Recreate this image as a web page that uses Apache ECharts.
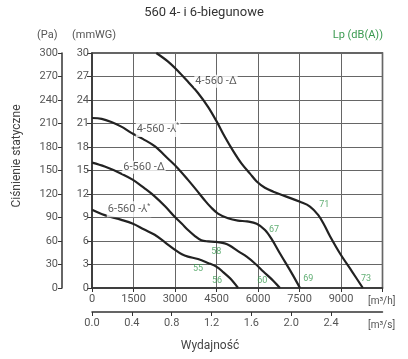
<!DOCTYPE html>
<html>
<head>
<meta charset="utf-8">
<script src="https://cdn.jsdelivr.net/npm/echarts@6/dist/echarts.min.js"></script>
<style>
html,body{margin:0;padding:0;background:#fff;}
#c{width:408px;height:359px;}
</style>
</head>
<body>
<div id="c"></div>
<script>
// ---- data (flow in m3/h, static pressure in Pa) ----
const curve4Delta = [[2324,300],[2750,289],[3108,277],[3500,262],[3831,249],[4200,231],[4500,213],[4800,193],[5100,175],[5400,159],[5711,146],[5953,136],[6250,128],[6553,123],[7000,117],[7518,110],[7879,104],[8180,93],[8400,80],[8603,66],[8964,44],[9400,21],[9790,0]];
const curve4Star = [[0,217],[350,216],[700,212],[1060,206],[1421,198],[1850,190],[2266,181],[2750,165],[3100,153],[3470,138],[3800,124],[4073,112],[4300,103],[4554,95],[4916,89],[5277,86],[5600,85],[5953,82],[6253,74],[6500,62],[6795,44],[7218,19],[7518,0]];
const curve6Delta = [[0,160],[459,155],[1060,146],[1482,138],[1870,128],[2266,117],[2650,104],[2989,91],[3250,82],[3470,74],[3700,67],[3952,61],[4200,59.5],[4434,59],[4795,57],[4988,54],[5277,47],[5591,40],[5900,31],[6192,21],[6500,11],[6795,0]];
const curve6Star = [[0,100],[459,93],[1060,87],[1482,82],[1870,75],[2266,68],[2650,58],[2989,49],[3250,43],[3470,40],[3831,37],[4193,32],[4507,27],[4750,20],[5000,12],[5280,0]];
const curveLabels = [[4482,264,'4-560 -Δ'],[2386,203,'4-560 -⅄{s|*}'],[1880,154,'6-560 -Δ'],[1337,100.5,'6-560 -⅄{s|*}']];
const dbLabels = [[8396,106,'71'],[6578,75,'67'],[7818,12.4,'69'],[9904,11.5,'73'],[6155,9.3,'60'],[4493,46.3,'58'],[3831,25.1,'55'],[4518,9.3,'56']];
const flowTicksH = [0,1500,3000,4500,6000,7500,9000];
const flowTicksS = [0,0.4,0.8,1.2,1.6,2.0,2.4];
const paTicks = [0,30,60,90,120,150,180,210,240,270,300];
const mmTicks = [0,3,6,9,12,15,18,21,24,27,30];

const FONT = 'Roboto';
const TXT = '#555';
const AX = '#333';
const GRN = '#3a9a50';

const chart = echarts.init(document.getElementById('c'), null, {renderer:'canvas'});

function lineSeries(data){
  return {type:'line', xAxisIndex:0, yAxisIndex:1, data:data, showSymbol:false, smooth:0.35,
    lineStyle:{color:'#222', width:2.2}, z:3, silent:true};
}

chart.setOption({
  animation:false,
  grid:{left:92, right:25.5, top:53, bottom:71, show:true, borderColor:AX, borderWidth:1.5},
  xAxis:[
    {type:'value', min:0, max:10500, interval:1500, position:'bottom',
     axisLine:{show:true, onZero:false, lineStyle:{color:AX, width:1.5}},
     axisTick:{show:true, length:4, lineStyle:{color:AX}},
     axisLabel:{color:TXT, fontSize:11, fontFamily:FONT, margin:6,
       customValues: flowTicksH,
       formatter:v=> flowTicksH.indexOf(v)>=0 ? String(v) : ''},
     splitLine:{show:true, lineStyle:{color:'#666', width:1}}},
    {type:'value', min:0, max:10500/3600, interval:0.4, position:'bottom', offset:24,
     axisLine:{show:true, onZero:false, lineStyle:{color:AX, width:1.5}},
     axisTick:{show:true, length:4, lineStyle:{color:AX}, customValues: flowTicksS},
     axisLabel:{color:TXT, fontSize:11, fontFamily:FONT, margin:6,
       customValues: flowTicksS,
       formatter:v=> v>2.5 ? '' : v.toFixed(1)},
     splitLine:{show:false}}
  ],
  yAxis:[
    {type:'value', min:0, max:30, interval:3, position:'left',
     axisLine:{show:true, onZero:false, lineStyle:{color:AX, width:1.5}},
     axisTick:{show:true, length:5, lineStyle:{color:AX}},
     axisLabel:{color:TXT, fontSize:11, fontFamily:FONT, margin:3, customValues: mmTicks},
     splitLine:{show:true, lineStyle:{color:'#666', width:1}}},
    {type:'value', min:0, max:300, interval:30, position:'left', offset:30,
     axisLine:{show:true, onZero:false, lineStyle:{color:AX, width:1.5}},
     axisTick:{show:true, length:4, lineStyle:{color:AX}},
     axisLabel:{color:TXT, fontSize:11, fontFamily:FONT, margin:4, customValues: paTicks},
     splitLine:{show:false}}
  ],
  series:[
    lineSeries(curve4Delta),
    lineSeries(curve4Star),
    lineSeries(curve6Delta),
    lineSeries(curve6Star),
    {type:'scatter', xAxisIndex:0, yAxisIndex:1, symbolSize:1, silent:true, z:5,
     itemStyle:{color:'rgba(0,0,0,0)'},
     data: curveLabels.map(d=>({value:[d[0],d[1]], name:d[2]})),
     label:{show:true, position:'inside', formatter:p=>p.name, color:'#333', fontSize:11, fontFamily:FONT,
       backgroundColor:'#fff', padding:[1,1,1,1],
       rich:{s:{fontSize:7, color:'#333', fontFamily:FONT, padding:[0,0,7,0]}}}},
    {type:'scatter', xAxisIndex:0, yAxisIndex:1, symbolSize:1, silent:true, z:5,
     itemStyle:{color:'rgba(0,0,0,0)'},
     data: dbLabels.map(d=>({value:[d[0],d[1]], name:d[2]})),
     label:{show:true, position:'inside', formatter:p=>p.name, color:GRN, fontSize:9, fontFamily:FONT}}
  ],
  graphic:[
    {type:'text', left:'center', top:6, style:{text:'560 4- i 6-biegunowe', fill:'#333', font:'13px '+FONT}},
    {type:'text', x:37, y:30, style:{text:'(Pa)', fill:TXT, font:'11px '+FONT}},
    {type:'text', x:72, y:30, style:{text:'(mmWG)', fill:TXT, font:'11px '+FONT}},
    {type:'text', x:383, y:30, style:{text:'Lp (dB(A))', fill:GRN, font:'11px '+FONT, textAlign:'right'}},
    {type:'text', x:368, y:296, style:{text:'[m³/h]', fill:TXT, font:'10px '+FONT}},
    {type:'text', x:368, y:320, style:{text:'[m³/s]', fill:TXT, font:'10px '+FONT}},
    {type:'text', x:210, y:340, style:{text:'Wydajność', fill:'#444', font:'12px '+FONT, textAlign:'center'}},
    {type:'text', x:11, y:156, rotation:Math.PI/2, style:{text:'Ciśnienie statyczne', fill:'#444', font:'12px '+FONT, textAlign:'center'}}
  ]
});
</script>
</body>
</html>
